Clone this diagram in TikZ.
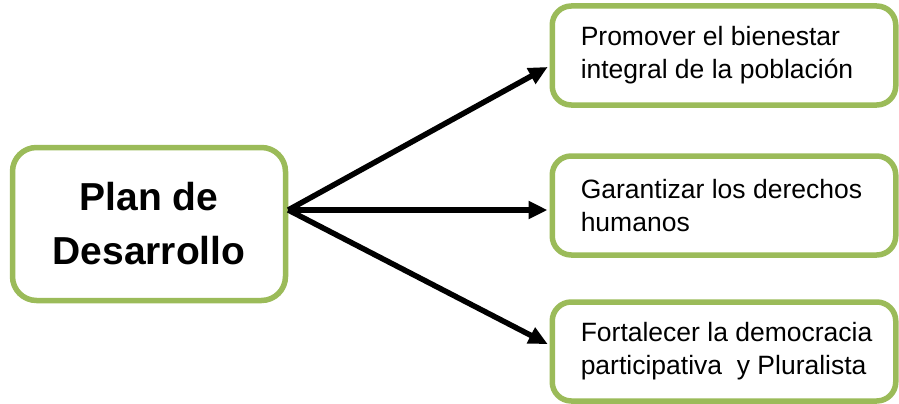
\documentclass[tikz,border=0pt]{standalone}
\usepackage{fontspec}
\setmainfont{Liberation Sans}
\usetikzlibrary{arrows.meta}
\definecolor{boxgreen}{HTML}{9BBB59}
\tikzset{
  mainbox/.style={draw=boxgreen, line width=5.5pt, rounded corners=24pt, fill=white,
    minimum width=273pt, minimum height=153pt, align=center, inner sep=0pt,
    font=\fontsize{39}{54}\selectfont\bfseries},
  goalbox/.style={draw=boxgreen, line width=5.5pt, rounded corners=19pt, fill=white,
    minimum width=343.5pt, minimum height=99pt, inner xsep=28.5pt, inner ysep=0pt,
    text width=286.5pt, align=flush left, font=\fontsize{26.5}{33}\selectfont},
  link/.style={line width=5.5pt, -{Triangle[length=19pt,width=17pt]}, shorten >=2pt}
}
\begin{document}
\begin{tikzpicture}[x=1pt,y=-1pt]
\useasboundingbox (0,0) rectangle (899,404);
\node[mainbox] (plan) at (149,224) {Plan de\\Desarrollo};
\node[goalbox] (g1) at (724,55.5) {\mbox{Promover el bienestar}\\\mbox{integral de la población}};
\node[goalbox] (g2) at (724,205.5) {\mbox{Garantizar los derechos}\\\mbox{humanos}};
\node[goalbox] (g3) at (724,351.5) {\mbox{Fortalecer la democracia}\\\mbox{participativa\ \ y Pluralista}};
\coordinate (src) at (plan.east |- 0,210);
\draw[link] (src) -- (g1.west |- 0,66);
\draw[link] (src) -- (g2.west |- 0,210);
\draw[link] (src) -- (g3.west |- 0,345);
\end{tikzpicture}
\end{document}
